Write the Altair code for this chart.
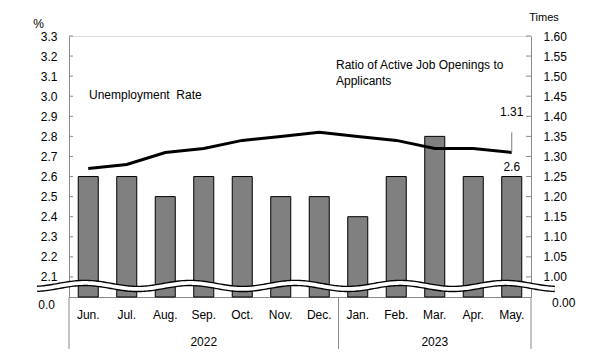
import altair as alt
import numpy as np
import pandas as pd

months = ["Jun.", "Jul.", "Aug.", "Sep.", "Oct.", "Nov.", "Dec.",
          "Jan.", "Feb.", "Mar.", "Apr.", "May."]
unemp = [2.6, 2.6, 2.5, 2.6, 2.6, 2.5, 2.5, 2.4, 2.6, 2.8, 2.6, 2.6]
ratio = [1.27, 1.28, 1.31, 1.32, 1.34, 1.35, 1.36, 1.35, 1.34, 1.32, 1.32, 1.31]
left_ticks = [2.1, 2.2, 2.3, 2.4, 2.5, 2.6, 2.7, 2.8, 2.9, 3.0, 3.1, 3.2, 3.3]
right_ticks = [1.00, 1.05, 1.10, 1.15, 1.20, 1.25, 1.30, 1.35, 1.40, 1.45, 1.50, 1.55, 1.60]
years = ["2022", "2023"]
year_pos = [3.5, 9.5]
sep_pos = [0, 7, 12]

W, H = 462, 261
GRAY = "#8a8a8a"
FONT = "Liberation Sans"

df = pd.DataFrame({"month": months, "unemp": unemp, "ratio": ratio, "base": 2.0})
df["lead_top"] = df["ratio"] + 0.05
df_lt = pd.DataFrame({"v": left_ticks})
df_rt = pd.DataFrame({"v": right_ticks})
df_year = pd.DataFrame({"year": years, "pos": year_pos})
df_sep = pd.DataFrame({"pos": sep_pos})

# decorative axis-break wave
wx = np.linspace(-0.83, 12.62, 300)
wy = 2.055 + 0.015 * np.cos((wx - 0.415) / 2.73 * 2 * np.pi)
df_wave = pd.DataFrame({"wx": wx, "wy": wy})

xband = alt.Scale(type="band", domain=months, paddingInner=0.48, paddingOuter=0.24)
xq = alt.Scale(domain=[0, 12], nice=False, zero=False)
yL = alt.Scale(domain=[2.0, 3.3], nice=False, zero=False)
yR = alt.Scale(domain=[0.95, 1.60], nice=False, zero=False)

base = alt.Chart(df)

bars = base.mark_bar(color="#808080", stroke="black", strokeWidth=1).encode(
    x=alt.X("month:N", scale=xband, sort=months,
            axis=alt.Axis(title=None, labelAngle=0, ticks=False, domainColor=GRAY,
                          labelPadding=12, labelFontSize=12, labelColor="black",
                          labelFont=FONT, zindex=0)),
    y=alt.Y("unemp:Q", scale=yL,
            axis=alt.Axis(orient="left", values=left_ticks, format=".1f", ticks=False,
                          grid=False, labelPadding=12, labelFontSize=12, labelColor="black",
                          labelFont=FONT, domainColor=GRAY, zindex=0,
                          title="%", titleAngle=0, titleX=-31, titleY=-13,
                          titleAlign="center", titleBaseline="middle",
                          titleFontSize=12, titleFontWeight="normal", titleFont=FONT,
                          titleColor="black")),
    y2="base:Q",
)

bar_label = base.mark_text(dy=-10, fontSize=12, font=FONT, color="black").encode(
    x=alt.X("month:N", scale=xband, sort=months, axis=None),
    y=alt.Y("unemp:Q", scale=yL, axis=None),
    text=alt.Text("unemp:Q", format=".1f"),
).transform_filter(alt.datum.month == "May.")

line = base.mark_line(color="black", strokeWidth=3).encode(
    x=alt.X("month:N", scale=xband, sort=months, axis=None),
    y=alt.Y("ratio:Q", scale=yR,
            axis=alt.Axis(orient="right", values=right_ticks, format=".2f", ticks=False,
                          grid=False, labelPadding=12, labelFontSize=12, labelColor="black",
                          labelFont=FONT, domainColor=GRAY, zindex=0,
                          title="Times", titleAngle=0, titleX=12.5, titleY=-19,
                          titleAlign="center", titleBaseline="middle",
                          titleFontSize=11, titleFontWeight="normal", titleFont=FONT,
                          titleColor="black")),
)

leader = base.mark_rule(color="#777777", strokeWidth=1).encode(
    x=alt.X("month:N", scale=xband, sort=months, axis=None),
    y=alt.Y("ratio:Q", scale=yR, axis=None),
    y2="lead_top:Q",
).transform_filter(alt.datum.month == "May.")

line_label = base.mark_text(dy=-40, fontSize=12, font=FONT, color="black").encode(
    x=alt.X("month:N", scale=xband, sort=months, axis=None),
    y=alt.Y("ratio:Q", scale=yR, axis=None),
    text=alt.Text("ratio:Q", format=".2f"),
).transform_filter(alt.datum.month == "May.")

ticks_l = alt.Chart(df_lt).mark_rule(color=GRAY).encode(
    x=alt.value(0), x2=alt.value(4),
    y=alt.Y("v:Q", scale=yL, axis=None),
)
ticks_r = alt.Chart(df_rt).mark_rule(color=GRAY).encode(
    x=alt.value(W - 5), x2=alt.value(W),
    y=alt.Y("v:Q", scale=yR, axis=None),
)

wave_b = alt.Chart(df_wave).mark_line(color="black", strokeWidth=6.5, clip=False).encode(
    x=alt.X("wx:Q", scale=xq, axis=None),
    y=alt.Y("wy:Q", scale=yL, axis=None),
)
wave_w = alt.Chart(df_wave).mark_line(color="white", strokeWidth=3.8, clip=False).encode(
    x=alt.X("wx:Q", scale=xq, axis=None),
    y=alt.Y("wy:Q", scale=yL, axis=None),
)

seps = alt.Chart(df_sep).mark_rule(color=GRAY).encode(
    x=alt.X("pos:Q", scale=xq, axis=None),
    y=alt.value(H), y2=alt.value(H + 56),
)

year_text = alt.Chart(df_year).mark_text(fontSize=12, font=FONT, color="black").encode(
    x=alt.X("pos:Q", scale=xq, axis=None),
    y=alt.value(306),
    text="year:N",
)

zero_l = alt.Chart(pd.DataFrame({"t": ["0.0"]})).mark_text(
    align="right", baseline="middle", fontSize=12, font=FONT, color="black"
).encode(x=alt.value(-14), y=alt.value(269), text="t:N")
zero_r = alt.Chart(pd.DataFrame({"t": ["0.00"]})).mark_text(
    align="left", baseline="middle", fontSize=12, font=FONT, color="black"
).encode(x=alt.value(483), y=alt.value(267), text="t:N")

ann_u = alt.Chart(pd.DataFrame({"t": ["Unemployment\u00a0 Rate"]})).mark_text(
    align="left", baseline="middle", fontSize=12, font=FONT, color="black"
).encode(x=alt.value(20), y=alt.value(59), text="t:N")
ann_r = alt.Chart(pd.DataFrame({"t": ["Ratio of Active Job Openings to"]})).mark_text(
    align="left", baseline="middle", fontSize=12, font=FONT, color="black"
).encode(x=alt.value(267), y=alt.value(29), text="t:N")
ann_r2 = alt.Chart(pd.DataFrame({"t": ["Applicants"]})).mark_text(
    align="left", baseline="middle", fontSize=12, font=FONT, color="black"
).encode(x=alt.value(267), y=alt.value(45), text="t:N")

chart = alt.layer(
    bars, line, bar_label, leader, line_label, ticks_l, ticks_r,
    wave_b, wave_w, seps, year_text, zero_l, zero_r, ann_u, ann_r, ann_r2,
).resolve_scale(x="independent", y="independent").properties(
    width=W, height=H,
    padding={"left": 61, "top": 28, "right": 54, "bottom": 52},
    autosize=alt.AutoSizeParams(type="none"),
).configure_view(stroke=None).configure(font=FONT)

chart.save("out.html", embed_options={"renderer": "svg", "actions": False})
